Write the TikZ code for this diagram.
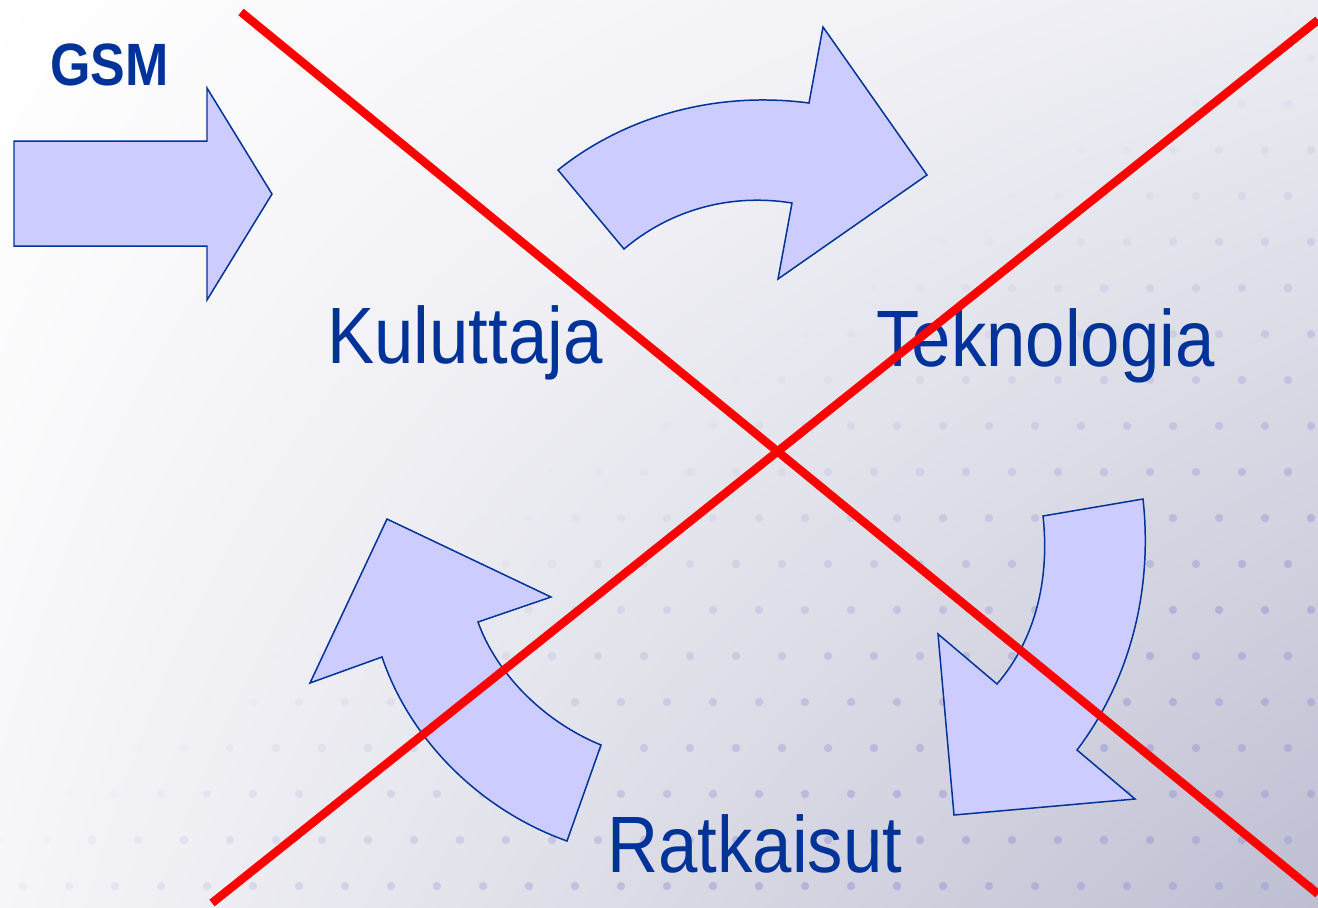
\documentclass[tikz,border=0pt]{standalone}
\usepackage{fontspec}
\setmainfont{Liberation Sans}
\usetikzlibrary{shadings}
\definecolor{txtblue}{RGB}{0,51,153}
\definecolor{arrfill}{RGB}{204,204,255}
\definecolor{dotblue}{RGB}{160,160,215}
\definecolor{bgtr}{RGB}{236,236,243}
\definecolor{bgbl}{RGB}{246,246,249}
\definecolor{bgbr}{RGB}{190,190,210}
\tikzset{
  bigarrow/.style={fill=arrfill, draw=txtblue, line width=0.85pt, line join=miter},
  crossline/.style={draw=red, line width=4.8pt},
  bigtext/.style={text=txtblue, font=\fontsize{45.5}{54}\selectfont, xscale=0.885, inner sep=0pt},
}
\begin{document}
\begin{tikzpicture}[x=0.02cm,y=-0.02cm]
\def\w{1318};
\def\h{907};
\def\dd{46};
\useasboundingbox (0,0) rectangle (\w,\h);
\clip (0,0) rectangle (\w,\h);
%background
\shade[upper left=white, upper right=bgtr, lower left=bgbl, lower right=bgbr]
  (0,0) rectangle (\w,\h);
%dots
\foreach\i in {0,1,...,29} {
  \foreach\j in {0,1,...,20} {
    \pgfmathsetmacro\px{\i*\dd+mod(\j,2)*0.5*\dd}
    \pgfmathsetmacro\py{\j*\dd+12}
    \pgfmathsetmacro\op{0.6*max(0,min(1,(\px+1.6*\py-1300)/900))}
    \fill[dotblue, opacity=\op] (\px,\py) circle (4.2);
  }
}
%arrows
\draw[bigarrow] (14,141) -- (207,141) -- (207,88) -- (272,194) -- (207,300) -- (207,246) -- (14,246) -- cycle;
\draw[bigarrow] (558,170) .. controls (620,120) and (710,90) .. (809,103) -- (823,27) -- (927,175)
  -- (778,279) -- (792,203) .. controls (730,193) and (670,210) .. (624,249) -- cycle;
\draw[bigarrow] (1043,516) -- (1143,499) .. controls (1153,590) and (1130,680) .. (1077,750) -- (1135,799)
  -- (954,815) -- (938,634) -- (997,684) .. controls (1035,640) and (1050,580) .. (1043,516) -- cycle;
\draw[bigarrow] (601,745) -- (567,841) .. controls (480,810) and (410,740) .. (382,657) -- (310,683)
  -- (387,519) -- (551,597) -- (478,622) .. controls (495,670) and (540,720) .. (601,745) -- cycle;
%labels
\node[text=txtblue, font=\fontsize{34}{40}\selectfont\bfseries, xscale=0.87, inner sep=0pt, anchor=base west] (gsm) at (50,85) {GSM};
\node[bigtext, anchor=base west] (kuluttaja) at (327,363) {Kuluttaja};
\node[bigtext, anchor=base west] (teknologia) at (876,366) {Teknologia};
\node[bigtext, anchor=base west] (ratkaisut) at (607,872) {Ratkaisut};
%cross
\coordinate (c1) at (241,12);
\coordinate (c2) at (1318,894);
\coordinate (c3) at (212,903);
\coordinate (c4) at (1318,20);
\draw[crossline] (c1) -- (c2);
\draw[crossline] (c3) -- (c4);
\end{tikzpicture}
\end{document}
